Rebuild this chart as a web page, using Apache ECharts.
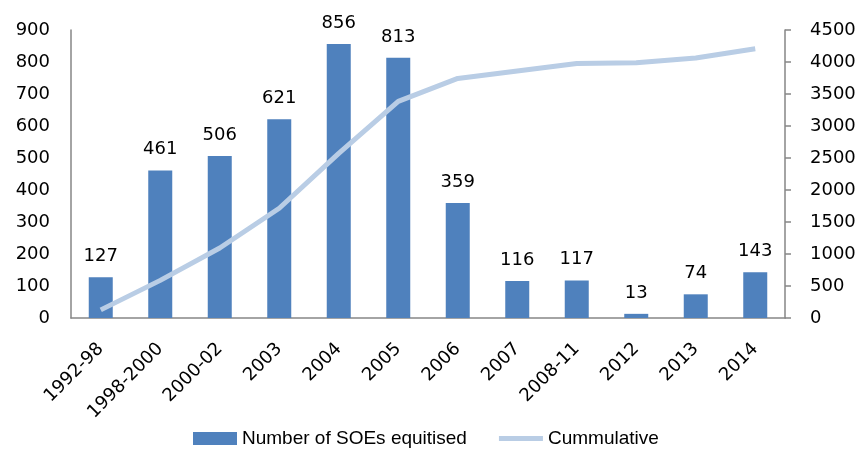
<!DOCTYPE html>
<html>
<head>
<meta charset="utf-8">
<script src="https://cdn.jsdelivr.net/npm/echarts@6/dist/echarts.min.js"></script>
<style>
html,body{margin:0;padding:0;background:#fff;}
#chart{width:862px;height:450px;}
</style>
</head>
<body>
<div id="chart"></div>
<script>
var periods = ['1992-98', '1998-2000', '2000-02', '2003', '2004', '2005', '2006', '2007', '2008-11', '2012', '2013', '2014'];
var equitised = [127, 461, 506, 621, 856, 813, 359, 116, 117, 13, 74, 143];
var cumulative = [127, 588, 1094, 1715, 2571, 3384, 3743, 3859, 3976, 3989, 4063, 4206];

var chart = echarts.init(document.getElementById('chart'));
var font = 'DejaVu Sans';
var option = {
    animation: false,
    grid: { left: 71, right: 77, top: 30, bottom: 132 },
    legend: {
        top: 424,
        left: 188,
        itemGap: 32,
        itemWidth: 44,
        itemHeight: 13,
        textStyle: { fontFamily: 'Liberation Sans', fontSize: 19, color: '#000' },
        data: [
            { name: 'Number of SOEs equitised', icon: 'rect' },
            { name: 'Cummulative', icon: 'path://M0,0h9v1h-9z' }
        ]
    },
    xAxis: {
        type: 'category',
        data: periods,
        axisLine: { lineStyle: { color: '#868686', width: 1.5 } },
        axisTick: { show: false },
        axisLabel: { rotate: 45, interval: 0, fontFamily: font, fontSize: 18, color: '#000', margin: 28 }
    },
    yAxis: [
        {
            type: 'value',
            min: 0,
            max: 900,
            interval: 100,
            splitLine: { show: false },
            axisLine: { show: true, lineStyle: { color: '#868686', width: 1.5 } },
            axisTick: { show: false },
            axisLabel: { fontFamily: font, fontSize: 18, color: '#000', margin: 21 }
        },
        {
            type: 'value',
            min: 0,
            max: 4500,
            interval: 500,
            splitLine: { show: false },
            axisLine: { show: true, lineStyle: { color: '#868686', width: 1.5 } },
            axisTick: { show: true, length: 6, lineStyle: { color: '#868686', width: 1.5 } },
            axisLabel: {
                fontFamily: font, fontSize: 18, color: '#000', margin: 25,
                formatter: function (v) { return String(v); }
            }
        }
    ],
    series: [
        {
            name: 'Number of SOEs equitised',
            type: 'bar',
            barWidth: 24,
            data: equitised,
            itemStyle: { color: '#4F81BD' },
            label: { show: true, position: 'top', distance: 12, fontFamily: font, fontSize: 18, color: '#000' }
        },
        {
            name: 'Cummulative',
            type: 'line',
            yAxisIndex: 1,
            symbol: 'none',
            data: cumulative,
            lineStyle: { color: '#B9CDE5', width: 5 },
            itemStyle: { color: '#B9CDE5' }
        }
    ]
};
chart.setOption(option);
</script>
</body>
</html>
